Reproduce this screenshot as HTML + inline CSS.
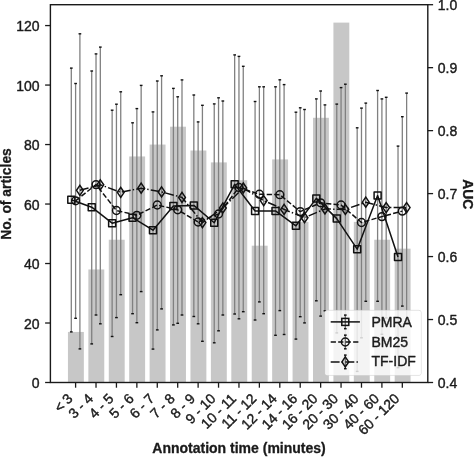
<!DOCTYPE html>
<html><head><meta charset="utf-8"><title>Annotation time chart</title>
<style>html,body{margin:0;padding:0;background:#fff}svg{display:block;filter:grayscale(1)}text{stroke:#1a1a1a;stroke-width:.4px;stroke-linejoin:round}text.b{stroke-width:.3px}</style></head>
<body>
<svg width="474" height="457" viewBox="0 0 474 457" font-family="'Liberation Sans', Arial, Helvetica, sans-serif" font-size="14" fill="#1a1a1a" stroke="#1a1a1a" stroke-width="0" paint-order="stroke">
<rect width="474" height="457" fill="#fff"/>
<g fill="#c7c7c8">
<rect x="67.95" y="331.94" width="15.9" height="50.56"/>
<rect x="88.37" y="269.47" width="15.9" height="113.03"/>
<rect x="108.79" y="239.73" width="15.9" height="142.77"/>
<rect x="129.21" y="156.45" width="15.9" height="226.05"/>
<rect x="149.63" y="144.55" width="15.9" height="237.95"/>
<rect x="170.05" y="126.70" width="15.9" height="255.80"/>
<rect x="190.47" y="150.50" width="15.9" height="232.00"/>
<rect x="210.89" y="162.39" width="15.9" height="220.11"/>
<rect x="231.31" y="180.24" width="15.9" height="202.26"/>
<rect x="251.73" y="245.68" width="15.9" height="136.82"/>
<rect x="272.15" y="159.42" width="15.9" height="223.08"/>
<rect x="292.57" y="221.88" width="15.9" height="160.62"/>
<rect x="312.99" y="117.78" width="15.9" height="264.72"/>
<rect x="333.41" y="22.60" width="15.9" height="359.90"/>
<rect x="353.83" y="221.88" width="15.9" height="160.62"/>
<rect x="374.25" y="239.73" width="15.9" height="142.77"/>
<rect x="394.67" y="248.65" width="15.9" height="133.85"/>
</g>
<g stroke="#808080" stroke-width="1.3" fill="none">
<line x1="71.30" y1="68.10" x2="71.30" y2="331.90"/>
<line x1="91.72" y1="71.00" x2="91.72" y2="343.90"/>
<line x1="112.14" y1="110.20" x2="112.14" y2="336.50"/>
<line x1="132.56" y1="122.80" x2="132.56" y2="313.70"/>
<line x1="152.98" y1="111.90" x2="152.98" y2="349.10"/>
<line x1="173.40" y1="88.40" x2="173.40" y2="324.90"/>
<line x1="193.82" y1="95.00" x2="193.82" y2="316.50"/>
<line x1="214.24" y1="103.90" x2="214.24" y2="342.80"/>
<line x1="234.66" y1="54.90" x2="234.66" y2="314.00"/>
<line x1="255.08" y1="101.50" x2="255.08" y2="320.00"/>
<line x1="275.50" y1="86.80" x2="275.50" y2="335.30"/>
<line x1="295.92" y1="112.20" x2="295.92" y2="339.10"/>
<line x1="316.34" y1="98.90" x2="316.34" y2="300.80"/>
<line x1="336.76" y1="104.10" x2="336.76" y2="332.90"/>
<line x1="357.18" y1="127.80" x2="357.18" y2="371.40"/>
<line x1="377.60" y1="90.50" x2="377.60" y2="301.30"/>
<line x1="398.02" y1="146.10" x2="398.02" y2="367.70"/>
<line x1="75.60" y1="83.50" x2="75.60" y2="318.30"/>
<line x1="96.02" y1="53.90" x2="96.02" y2="315.00"/>
<line x1="116.44" y1="104.20" x2="116.44" y2="317.60"/>
<line x1="136.86" y1="108.60" x2="136.86" y2="322.70"/>
<line x1="157.28" y1="81.00" x2="157.28" y2="329.90"/>
<line x1="177.70" y1="96.80" x2="177.70" y2="323.30"/>
<line x1="198.12" y1="121.90" x2="198.12" y2="323.80"/>
<line x1="218.54" y1="97.80" x2="218.54" y2="330.80"/>
<line x1="238.96" y1="56.40" x2="238.96" y2="318.80"/>
<line x1="259.38" y1="86.80" x2="259.38" y2="301.90"/>
<line x1="279.80" y1="79.80" x2="279.80" y2="310.60"/>
<line x1="300.22" y1="107.80" x2="300.22" y2="316.70"/>
<line x1="320.64" y1="91.00" x2="320.64" y2="316.10"/>
<line x1="341.06" y1="87.60" x2="341.06" y2="322.40"/>
<line x1="361.48" y1="108.10" x2="361.48" y2="337.80"/>
<line x1="381.90" y1="98.90" x2="381.90" y2="334.30"/>
<line x1="402.32" y1="116.70" x2="402.32" y2="306.10"/>
<line x1="79.90" y1="33.80" x2="79.90" y2="348.90"/>
<line x1="100.32" y1="47.10" x2="100.32" y2="323.80"/>
<line x1="120.74" y1="91.80" x2="120.74" y2="294.70"/>
<line x1="141.16" y1="85.40" x2="141.16" y2="291.60"/>
<line x1="161.58" y1="75.80" x2="161.58" y2="308.90"/>
<line x1="182.00" y1="79.90" x2="182.00" y2="315.00"/>
<line x1="202.42" y1="105.30" x2="202.42" y2="341.30"/>
<line x1="222.84" y1="101.00" x2="222.84" y2="315.00"/>
<line x1="243.26" y1="66.30" x2="243.26" y2="311.70"/>
<line x1="263.68" y1="86.80" x2="263.68" y2="313.70"/>
<line x1="284.10" y1="84.60" x2="284.10" y2="334.50"/>
<line x1="304.52" y1="109.50" x2="304.52" y2="322.90"/>
<line x1="324.94" y1="104.90" x2="324.94" y2="310.80"/>
<line x1="345.36" y1="84.20" x2="345.36" y2="334.60"/>
<line x1="365.78" y1="103.10" x2="365.78" y2="301.30"/>
<line x1="386.20" y1="97.30" x2="386.20" y2="317.90"/>
<line x1="406.62" y1="93.10" x2="406.62" y2="322.10"/>
</g>
<g stroke="#111" stroke-width="1.4" fill="none">
<line x1="69.95" y1="68.10" x2="72.65" y2="68.10"/>
<line x1="69.95" y1="331.90" x2="72.65" y2="331.90"/>
<line x1="90.37" y1="71.00" x2="93.07" y2="71.00"/>
<line x1="90.37" y1="343.90" x2="93.07" y2="343.90"/>
<line x1="110.79" y1="110.20" x2="113.49" y2="110.20"/>
<line x1="110.79" y1="336.50" x2="113.49" y2="336.50"/>
<line x1="131.21" y1="122.80" x2="133.91" y2="122.80"/>
<line x1="131.21" y1="313.70" x2="133.91" y2="313.70"/>
<line x1="151.63" y1="111.90" x2="154.33" y2="111.90"/>
<line x1="151.63" y1="349.10" x2="154.33" y2="349.10"/>
<line x1="172.05" y1="88.40" x2="174.75" y2="88.40"/>
<line x1="172.05" y1="324.90" x2="174.75" y2="324.90"/>
<line x1="192.47" y1="95.00" x2="195.17" y2="95.00"/>
<line x1="192.47" y1="316.50" x2="195.17" y2="316.50"/>
<line x1="212.89" y1="103.90" x2="215.59" y2="103.90"/>
<line x1="212.89" y1="342.80" x2="215.59" y2="342.80"/>
<line x1="233.31" y1="54.90" x2="236.01" y2="54.90"/>
<line x1="233.31" y1="314.00" x2="236.01" y2="314.00"/>
<line x1="253.73" y1="101.50" x2="256.43" y2="101.50"/>
<line x1="253.73" y1="320.00" x2="256.43" y2="320.00"/>
<line x1="274.15" y1="86.80" x2="276.85" y2="86.80"/>
<line x1="274.15" y1="335.30" x2="276.85" y2="335.30"/>
<line x1="294.57" y1="112.20" x2="297.27" y2="112.20"/>
<line x1="294.57" y1="339.10" x2="297.27" y2="339.10"/>
<line x1="314.99" y1="98.90" x2="317.69" y2="98.90"/>
<line x1="314.99" y1="300.80" x2="317.69" y2="300.80"/>
<line x1="335.41" y1="104.10" x2="338.11" y2="104.10"/>
<line x1="335.41" y1="332.90" x2="338.11" y2="332.90"/>
<line x1="355.83" y1="127.80" x2="358.53" y2="127.80"/>
<line x1="355.83" y1="371.40" x2="358.53" y2="371.40"/>
<line x1="376.25" y1="90.50" x2="378.95" y2="90.50"/>
<line x1="376.25" y1="301.30" x2="378.95" y2="301.30"/>
<line x1="396.67" y1="146.10" x2="399.37" y2="146.10"/>
<line x1="396.67" y1="367.70" x2="399.37" y2="367.70"/>
<line x1="74.25" y1="83.50" x2="76.95" y2="83.50"/>
<line x1="74.25" y1="318.30" x2="76.95" y2="318.30"/>
<line x1="94.67" y1="53.90" x2="97.37" y2="53.90"/>
<line x1="94.67" y1="315.00" x2="97.37" y2="315.00"/>
<line x1="115.09" y1="104.20" x2="117.79" y2="104.20"/>
<line x1="115.09" y1="317.60" x2="117.79" y2="317.60"/>
<line x1="135.51" y1="108.60" x2="138.21" y2="108.60"/>
<line x1="135.51" y1="322.70" x2="138.21" y2="322.70"/>
<line x1="155.93" y1="81.00" x2="158.63" y2="81.00"/>
<line x1="155.93" y1="329.90" x2="158.63" y2="329.90"/>
<line x1="176.35" y1="96.80" x2="179.05" y2="96.80"/>
<line x1="176.35" y1="323.30" x2="179.05" y2="323.30"/>
<line x1="196.77" y1="121.90" x2="199.47" y2="121.90"/>
<line x1="196.77" y1="323.80" x2="199.47" y2="323.80"/>
<line x1="217.19" y1="97.80" x2="219.89" y2="97.80"/>
<line x1="217.19" y1="330.80" x2="219.89" y2="330.80"/>
<line x1="237.61" y1="56.40" x2="240.31" y2="56.40"/>
<line x1="237.61" y1="318.80" x2="240.31" y2="318.80"/>
<line x1="258.03" y1="86.80" x2="260.73" y2="86.80"/>
<line x1="258.03" y1="301.90" x2="260.73" y2="301.90"/>
<line x1="278.45" y1="79.80" x2="281.15" y2="79.80"/>
<line x1="278.45" y1="310.60" x2="281.15" y2="310.60"/>
<line x1="298.87" y1="107.80" x2="301.57" y2="107.80"/>
<line x1="298.87" y1="316.70" x2="301.57" y2="316.70"/>
<line x1="319.29" y1="91.00" x2="321.99" y2="91.00"/>
<line x1="319.29" y1="316.10" x2="321.99" y2="316.10"/>
<line x1="339.71" y1="87.60" x2="342.41" y2="87.60"/>
<line x1="339.71" y1="322.40" x2="342.41" y2="322.40"/>
<line x1="360.13" y1="108.10" x2="362.83" y2="108.10"/>
<line x1="360.13" y1="337.80" x2="362.83" y2="337.80"/>
<line x1="380.55" y1="98.90" x2="383.25" y2="98.90"/>
<line x1="380.55" y1="334.30" x2="383.25" y2="334.30"/>
<line x1="400.97" y1="116.70" x2="403.67" y2="116.70"/>
<line x1="400.97" y1="306.10" x2="403.67" y2="306.10"/>
<line x1="78.55" y1="33.80" x2="81.25" y2="33.80"/>
<line x1="78.55" y1="348.90" x2="81.25" y2="348.90"/>
<line x1="98.97" y1="47.10" x2="101.67" y2="47.10"/>
<line x1="98.97" y1="323.80" x2="101.67" y2="323.80"/>
<line x1="119.39" y1="91.80" x2="122.09" y2="91.80"/>
<line x1="119.39" y1="294.70" x2="122.09" y2="294.70"/>
<line x1="139.81" y1="85.40" x2="142.51" y2="85.40"/>
<line x1="139.81" y1="291.60" x2="142.51" y2="291.60"/>
<line x1="160.23" y1="75.80" x2="162.93" y2="75.80"/>
<line x1="160.23" y1="308.90" x2="162.93" y2="308.90"/>
<line x1="180.65" y1="79.90" x2="183.35" y2="79.90"/>
<line x1="180.65" y1="315.00" x2="183.35" y2="315.00"/>
<line x1="201.07" y1="105.30" x2="203.77" y2="105.30"/>
<line x1="201.07" y1="341.30" x2="203.77" y2="341.30"/>
<line x1="221.49" y1="101.00" x2="224.19" y2="101.00"/>
<line x1="221.49" y1="315.00" x2="224.19" y2="315.00"/>
<line x1="241.91" y1="66.30" x2="244.61" y2="66.30"/>
<line x1="241.91" y1="311.70" x2="244.61" y2="311.70"/>
<line x1="262.33" y1="86.80" x2="265.03" y2="86.80"/>
<line x1="262.33" y1="313.70" x2="265.03" y2="313.70"/>
<line x1="282.75" y1="84.60" x2="285.45" y2="84.60"/>
<line x1="282.75" y1="334.50" x2="285.45" y2="334.50"/>
<line x1="303.17" y1="109.50" x2="305.87" y2="109.50"/>
<line x1="303.17" y1="322.90" x2="305.87" y2="322.90"/>
<line x1="323.59" y1="104.90" x2="326.29" y2="104.90"/>
<line x1="323.59" y1="310.80" x2="326.29" y2="310.80"/>
<line x1="344.01" y1="84.20" x2="346.71" y2="84.20"/>
<line x1="344.01" y1="334.60" x2="346.71" y2="334.60"/>
<line x1="364.43" y1="103.10" x2="367.13" y2="103.10"/>
<line x1="364.43" y1="301.30" x2="367.13" y2="301.30"/>
<line x1="384.85" y1="97.30" x2="387.55" y2="97.30"/>
<line x1="384.85" y1="317.90" x2="387.55" y2="317.90"/>
<line x1="405.27" y1="93.10" x2="407.97" y2="93.10"/>
<line x1="405.27" y1="322.10" x2="407.97" y2="322.10"/>
</g>
<g stroke="#111" stroke-width="1.5" fill="none" stroke-linejoin="round">
<polyline points="71.30,199.70 91.72,207.20 112.14,223.20 132.56,217.70 152.98,230.20 173.40,206.10 193.82,205.40 214.24,222.70 234.66,184.30 255.08,211.00 275.50,210.90 295.92,225.80 316.34,198.40 336.76,218.60 357.18,249.20 377.60,195.60 398.02,256.90"/>
<polyline points="75.60,200.80 96.02,184.60 116.44,210.50 136.86,215.30 157.28,205.00 177.70,209.80 198.12,222.00 218.54,214.00 238.96,187.50 259.38,194.20 279.80,194.70 300.22,211.60 320.64,202.80 341.06,205.00 361.48,222.50 381.90,216.60 402.32,211.10" stroke-dasharray="5.23 2.25"/>
<polyline points="79.90,190.30 100.32,184.80 120.74,192.30 141.16,188.20 161.58,191.90 182.00,197.40 202.42,222.60 222.84,208.00 243.26,188.00 263.68,200.60 284.10,209.40 304.52,217.70 324.94,209.00 345.36,209.40 365.78,202.20 386.20,207.60 406.62,207.60" stroke-dasharray="8.9 2.2 1.4 2.2"/>
<rect x="67.80" y="196.20" width="7" height="7"/>
<rect x="88.22" y="203.70" width="7" height="7"/>
<rect x="108.64" y="219.70" width="7" height="7"/>
<rect x="129.06" y="214.20" width="7" height="7"/>
<rect x="149.48" y="226.70" width="7" height="7"/>
<rect x="169.90" y="202.60" width="7" height="7"/>
<rect x="190.32" y="201.90" width="7" height="7"/>
<rect x="210.74" y="219.20" width="7" height="7"/>
<rect x="231.16" y="180.80" width="7" height="7"/>
<rect x="251.58" y="207.50" width="7" height="7"/>
<rect x="272.00" y="207.40" width="7" height="7"/>
<rect x="292.42" y="222.30" width="7" height="7"/>
<rect x="312.84" y="194.90" width="7" height="7"/>
<rect x="333.26" y="215.10" width="7" height="7"/>
<rect x="353.68" y="245.70" width="7" height="7"/>
<rect x="374.10" y="192.10" width="7" height="7"/>
<rect x="394.52" y="253.40" width="7" height="7"/>
<circle cx="75.60" cy="200.80" r="3.9"/>
<circle cx="96.02" cy="184.60" r="3.9"/>
<circle cx="116.44" cy="210.50" r="3.9"/>
<circle cx="136.86" cy="215.30" r="3.9"/>
<circle cx="157.28" cy="205.00" r="3.9"/>
<circle cx="177.70" cy="209.80" r="3.9"/>
<circle cx="198.12" cy="222.00" r="3.9"/>
<circle cx="218.54" cy="214.00" r="3.9"/>
<circle cx="238.96" cy="187.50" r="3.9"/>
<circle cx="259.38" cy="194.20" r="3.9"/>
<circle cx="279.80" cy="194.70" r="3.9"/>
<circle cx="300.22" cy="211.60" r="3.9"/>
<circle cx="320.64" cy="202.80" r="3.9"/>
<circle cx="341.06" cy="205.00" r="3.9"/>
<circle cx="361.48" cy="222.50" r="3.9"/>
<circle cx="381.90" cy="216.60" r="3.9"/>
<circle cx="402.32" cy="211.10" r="3.9"/>
<path d="M79.90 185.30L83.30 190.30L79.90 195.30L76.50 190.30Z" stroke-linejoin="miter"/>
<path d="M100.32 179.80L103.72 184.80L100.32 189.80L96.92 184.80Z" stroke-linejoin="miter"/>
<path d="M120.74 187.30L124.14 192.30L120.74 197.30L117.34 192.30Z" stroke-linejoin="miter"/>
<path d="M141.16 183.20L144.56 188.20L141.16 193.20L137.76 188.20Z" stroke-linejoin="miter"/>
<path d="M161.58 186.90L164.98 191.90L161.58 196.90L158.18 191.90Z" stroke-linejoin="miter"/>
<path d="M182.00 192.40L185.40 197.40L182.00 202.40L178.60 197.40Z" stroke-linejoin="miter"/>
<path d="M202.42 217.60L205.82 222.60L202.42 227.60L199.02 222.60Z" stroke-linejoin="miter"/>
<path d="M222.84 203.00L226.24 208.00L222.84 213.00L219.44 208.00Z" stroke-linejoin="miter"/>
<path d="M243.26 183.00L246.66 188.00L243.26 193.00L239.86 188.00Z" stroke-linejoin="miter"/>
<path d="M263.68 195.60L267.08 200.60L263.68 205.60L260.28 200.60Z" stroke-linejoin="miter"/>
<path d="M284.10 204.40L287.50 209.40L284.10 214.40L280.70 209.40Z" stroke-linejoin="miter"/>
<path d="M304.52 212.70L307.92 217.70L304.52 222.70L301.12 217.70Z" stroke-linejoin="miter"/>
<path d="M324.94 204.00L328.34 209.00L324.94 214.00L321.54 209.00Z" stroke-linejoin="miter"/>
<path d="M345.36 204.40L348.76 209.40L345.36 214.40L341.96 209.40Z" stroke-linejoin="miter"/>
<path d="M365.78 197.20L369.18 202.20L365.78 207.20L362.38 202.20Z" stroke-linejoin="miter"/>
<path d="M386.20 202.60L389.60 207.60L386.20 212.60L382.80 207.60Z" stroke-linejoin="miter"/>
<path d="M406.62 202.60L410.02 207.60L406.62 212.60L403.22 207.60Z" stroke-linejoin="miter"/>
</g>
<rect x="325.1" y="310.4" width="95.9" height="64.8" rx="2" ry="2" fill="#fff" fill-opacity="0.8" stroke="#cccccc" stroke-opacity="0.8" stroke-width="1"/>
<g stroke="#111" stroke-width="1.5" fill="none">
<line x1="345.29999999999995" y1="315.29999999999995" x2="345.29999999999995" y2="328.5" stroke="#6a6a6a" stroke-width="1.3"/>
<line x1="343.99999999999994" y1="315.09999999999997" x2="346.59999999999997" y2="315.09999999999997"/>
<line x1="343.99999999999994" y1="328.7" x2="346.59999999999997" y2="328.7"/>
<line x1="330.7" y1="321.9" x2="359.9" y2="321.9"/>
<line x1="345.29999999999995" y1="335.4" x2="345.29999999999995" y2="348.6" stroke="#6a6a6a" stroke-width="1.3"/>
<line x1="343.99999999999994" y1="335.2" x2="346.59999999999997" y2="335.2"/>
<line x1="343.99999999999994" y1="348.8" x2="346.59999999999997" y2="348.8"/>
<line x1="330.7" y1="342.0" x2="359.9" y2="342.0" stroke-dasharray="5.23 2.25"/>
<line x1="345.29999999999995" y1="355.29999999999995" x2="345.29999999999995" y2="368.5" stroke="#6a6a6a" stroke-width="1.3"/>
<line x1="343.99999999999994" y1="355.09999999999997" x2="346.59999999999997" y2="355.09999999999997"/>
<line x1="343.99999999999994" y1="368.7" x2="346.59999999999997" y2="368.7"/>
<line x1="330.7" y1="361.9" x2="359.9" y2="361.9" stroke-dasharray="8.9 2.2 1.4 2.2"/>
<rect x="341.80" y="318.40" width="7" height="7"/>
<circle cx="345.30" cy="342.00" r="3.9"/>
<path d="M345.30 356.90L348.70 361.90L345.30 366.90L341.90 361.90Z"/>
</g>
<text x="371.5" y="326.6">PMRA</text>
<text x="371.5" y="346.6">BM25</text>
<text x="371.5" y="366.2">TF-IDF</text>
<rect x="50.4" y="4.7" width="377.40" height="377.80" fill="none" stroke="#1a1a1a" stroke-width="1.4"/>
<g stroke="#1a1a1a" stroke-width="1.3">
<line x1="45.1" y1="382.50" x2="50.4" y2="382.50"/>
<line x1="45.1" y1="323.01" x2="50.4" y2="323.01"/>
<line x1="45.1" y1="263.52" x2="50.4" y2="263.52"/>
<line x1="45.1" y1="204.04" x2="50.4" y2="204.04"/>
<line x1="45.1" y1="144.55" x2="50.4" y2="144.55"/>
<line x1="45.1" y1="85.06" x2="50.4" y2="85.06"/>
<line x1="45.1" y1="25.57" x2="50.4" y2="25.57"/>
<line x1="427.8" y1="382.50" x2="433.1" y2="382.50"/>
<line x1="427.8" y1="319.53" x2="433.1" y2="319.53"/>
<line x1="427.8" y1="256.57" x2="433.1" y2="256.57"/>
<line x1="427.8" y1="193.60" x2="433.1" y2="193.60"/>
<line x1="427.8" y1="130.63" x2="433.1" y2="130.63"/>
<line x1="427.8" y1="67.67" x2="433.1" y2="67.67"/>
<line x1="427.8" y1="4.70" x2="433.1" y2="4.70"/>
<line x1="75.60" y1="382.5" x2="75.60" y2="387.7"/>
<line x1="96.02" y1="382.5" x2="96.02" y2="387.7"/>
<line x1="116.44" y1="382.5" x2="116.44" y2="387.7"/>
<line x1="136.86" y1="382.5" x2="136.86" y2="387.7"/>
<line x1="157.28" y1="382.5" x2="157.28" y2="387.7"/>
<line x1="177.70" y1="382.5" x2="177.70" y2="387.7"/>
<line x1="198.12" y1="382.5" x2="198.12" y2="387.7"/>
<line x1="218.54" y1="382.5" x2="218.54" y2="387.7"/>
<line x1="238.96" y1="382.5" x2="238.96" y2="387.7"/>
<line x1="259.38" y1="382.5" x2="259.38" y2="387.7"/>
<line x1="279.80" y1="382.5" x2="279.80" y2="387.7"/>
<line x1="300.22" y1="382.5" x2="300.22" y2="387.7"/>
<line x1="320.64" y1="382.5" x2="320.64" y2="387.7"/>
<line x1="341.06" y1="382.5" x2="341.06" y2="387.7"/>
<line x1="361.48" y1="382.5" x2="361.48" y2="387.7"/>
<line x1="381.90" y1="382.5" x2="381.90" y2="387.7"/>
<line x1="402.32" y1="382.5" x2="402.32" y2="387.7"/>
</g>
<text x="39.5" y="388.30" text-anchor="end">0</text>
<text x="39.5" y="328.81" text-anchor="end">20</text>
<text x="39.5" y="269.32" text-anchor="end">40</text>
<text x="39.5" y="209.84" text-anchor="end">60</text>
<text x="39.5" y="150.35" text-anchor="end">80</text>
<text x="39.5" y="90.86" text-anchor="end">100</text>
<text x="39.5" y="31.37" text-anchor="end">120</text>
<text x="437.8" y="387.80">0.4</text>
<text x="437.8" y="324.83">0.5</text>
<text x="437.8" y="261.87">0.6</text>
<text x="437.8" y="198.90">0.7</text>
<text x="437.8" y="135.93">0.8</text>
<text x="437.8" y="72.97">0.9</text>
<text x="437.8" y="10.00">1.0</text>
<text x="73.60" y="399.50" text-anchor="end" transform="rotate(-45 73.60 399.50)">&lt;<tspan dx="3.1">3</tspan></text>
<text x="94.02" y="399.50" text-anchor="end" transform="rotate(-45 94.02 399.50)">3 - 4</text>
<text x="114.44" y="399.50" text-anchor="end" transform="rotate(-45 114.44 399.50)">4 - 5</text>
<text x="134.86" y="399.50" text-anchor="end" transform="rotate(-45 134.86 399.50)">5 - 6</text>
<text x="155.28" y="399.50" text-anchor="end" transform="rotate(-45 155.28 399.50)">6 - 7</text>
<text x="175.70" y="399.50" text-anchor="end" transform="rotate(-45 175.70 399.50)">7 - 8</text>
<text x="196.12" y="399.50" text-anchor="end" transform="rotate(-45 196.12 399.50)">8 - 9</text>
<text x="216.54" y="399.50" text-anchor="end" transform="rotate(-45 216.54 399.50)">9 - 10</text>
<text x="236.96" y="399.50" text-anchor="end" transform="rotate(-45 236.96 399.50)">10 - 11</text>
<text x="257.38" y="399.50" text-anchor="end" transform="rotate(-45 257.38 399.50)">11 - 12</text>
<text x="277.80" y="399.50" text-anchor="end" transform="rotate(-45 277.80 399.50)">12 - 14</text>
<text x="298.22" y="399.50" text-anchor="end" transform="rotate(-45 298.22 399.50)">14 - 16</text>
<text x="318.64" y="399.50" text-anchor="end" transform="rotate(-45 318.64 399.50)">16 - 20</text>
<text x="339.06" y="399.50" text-anchor="end" transform="rotate(-45 339.06 399.50)">20 - 30</text>
<text x="359.48" y="399.50" text-anchor="end" transform="rotate(-45 359.48 399.50)">30 - 40</text>
<text x="379.90" y="399.50" text-anchor="end" transform="rotate(-45 379.90 399.50)">40 - 60</text>
<text x="400.32" y="399.50" text-anchor="end" transform="rotate(-45 400.32 399.50)">60 - 120</text>
<text x="239.0" y="453.3" text-anchor="middle" class="b" font-weight="bold" font-size="14">Annotation time (minutes)</text>
<text x="10.9" y="194" text-anchor="middle" class="b" font-weight="bold" font-size="13.85" transform="rotate(-90 10.9 194)">No. of articles</text>
<text x="463.0" y="194.3" text-anchor="middle" class="b" font-weight="bold" font-size="14" transform="rotate(90 463.0 194.3)">AUC</text>
</svg>
</body></html>
